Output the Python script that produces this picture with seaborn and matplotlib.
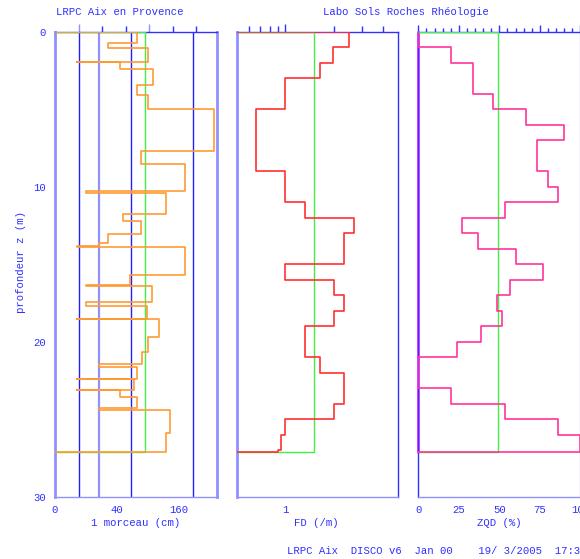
import numpy as np
import pandas as pd
import matplotlib
matplotlib.use("Agg")
import matplotlib.pyplot as plt
import seaborn as sns
from matplotlib.ticker import FixedLocator, NullFormatter, FixedFormatter

# ---------------- data ----------------
piece_depth = [0, 0.73, 1.01, 1.92, 1.96, 2.41, 3.43, 4.07, 5.0, 7.71,
               8.51, 10.28, 10.41, 11.72, 12.22, 13.01, 13.62, 13.83, 13.9, 15.71,
               16.31, 16.42, 17.45, 17.67, 18.51, 18.55, 19.7, 20.67, 21.42, 21.64,
               22.37, 22.43, 23.08, 23.14, 23.57, 24.26, 24.43, 25.88, 27.13]
piece_cm = [70, 30, 90, 5, 44, 100, 70, 90, 267, 78,
            179, 10, 130, 49, 78, 30, 20, 5, 179, 59,
            10, 99, 10, 89, 5, 114, 90, 79, 20, 70,
            5, 65, 5, 45, 70, 20, 138, 129]
piece_mean = 86
piece_refs = [6, 20, 60, 200]

fd_depth = [0, 1, 2, 3, 5, 9, 11, 12, 13, 15, 16, 17, 18, 19, 21, 22, 24, 25, 26, 27, 27.13]
fd = [2.48, 1.98, 1.65, 1.0, 0.656, 1.0, 1.33, 2.66, 2.32, 1.0,
      2.0, 2.32, 2.0, 1.33, 1.65, 2.32, 2.0, 1.0, 0.935, 0.9]
fd_mean = 1.51

zqd_depth = [0, 1, 2, 4, 5, 6, 7, 9, 10, 11, 12, 13, 14, 15, 16, 17, 18, 19, 20, 21,
             23, 24, 25, 26, 27.13]
zqd = [0, 20, 33.6, 46.3, 66.5, 89.9, 73.5, 80, 86.4, 53.7,
       27.2, 36.7, 60.1, 76.8, 56.6, 48.4, 51.5, 38.7, 23.7, 0,
       20.2, 53.7, 86.4, 100]
zqd_mean = 49.4

title_left = "LRPC Aix en Provence"
title_right = "Labo Sols Roches Rhéologie"
ylabel = "profondeur z (m)"
xlabels = ["1 morceau (cm)", "FD (/m)", "ZQD (%)"]
footer = "LRPC Aix  DISCO v6  Jan 00    19/ 3/2005  17:30"

# ---------------- style ----------------
sns.set_style("white")
FONT = ["Liberation Mono", "DejaVu Sans Mono"]
plt.rcParams["font.family"] = FONT
FS = 7.7
BLUE = "#3030ff"
LBLUE = "#9090ff"
GREEN = "#44ee44"

W, H = 580, 559
fig = plt.figure(figsize=(W / 100, H / 100), dpi=100)


def rect(x0, x1, y0, y1):
    return [x0 / W, 1 - y1 / H, (x1 - x0) / W, (y1 - y0) / H]


def step_frame(depths, vals, base):
    xs, ys = [base], [depths[0]]
    for i, v in enumerate(vals):
        xs += [v, v]
        ys += [depths[i], depths[i + 1]]
    xs.append(base)
    ys.append(depths[-1])
    return pd.DataFrame({"x": xs, "y": ys})


def mean_frame(m, dmax, base):
    return pd.DataFrame({"x": [base, m, m, base], "y": [0, 0, dmax, dmax]})


ax1 = fig.add_axes(rect(55, 216.7, 32, 496.7))
ax2 = fig.add_axes(rect(236.7, 398.3, 32, 496.7))
ax3 = fig.add_axes(rect(418.3, 580.3, 32, 496.7))

# scales
ax1.set_xscale("function", functions=(lambda v: np.sqrt(np.clip(v, 0, None)), np.square))
ax1.set_xlim(0, 275)
ax2.set_xscale("log")
ax2.set_xlim(0.5, 5)
ax3.set_xlim(0, 100)

for ax in (ax1, ax2, ax3):
    ax.set_ylim(30, 0)
    for s in ax.spines.values():
        s.set_color(BLUE)
        s.set_linewidth(1.0)
    ax.yaxis.set_major_locator(FixedLocator([0, 10, 20, 30]))
    ax.yaxis.set_minor_locator(FixedLocator(np.arange(0, 31, 2)))
    ax.tick_params(axis="y", which="major", direction="out", length=5, width=1,
                   color=BLUE, labelcolor=BLUE, labelsize=FS, pad=1.5)
    ax.tick_params(axis="y", which="minor", direction="out", length=2.5, width=1, color=BLUE)

ax1.spines["left"].set_color(LBLUE)
ax1.spines["left"].set_linewidth(2)
ax1.spines["right"].set_color(LBLUE)
ax1.spines["right"].set_linewidth(2)
ax2.spines["left"].set_color(LBLUE)
ax2.spines["left"].set_linewidth(2)
ax3.spines["right"].set_color("#c8c8ff")
ax1.spines["bottom"].set_color(LBLUE)
ax2.spines["bottom"].set_color(LBLUE)
ax3.spines["bottom"].set_color(LBLUE)
ax2.tick_params(axis="y", labelleft=False)
ax3.tick_params(axis="y", labelleft=False)

# panel 1 reference lines
for r in piece_refs:
    ax1.axvline(r, color=(LBLUE if r == 20 else "#2020ff"), lw=(1.6 if r == 20 else 1.0), zorder=1)

# panel 1 profile
sns.lineplot(data=mean_frame(piece_mean, piece_depth[-1], 0), x="x", y="y", sort=False,
             estimator=None, ax=ax1, color=GREEN, lw=1.0, zorder=3)
sns.lineplot(data=step_frame(piece_depth, piece_cm, 0), x="x", y="y", sort=False,
             estimator=None, ax=ax1, color="#ff9933", lw=1.2, zorder=4)

# panel 2 profile
sns.lineplot(data=mean_frame(fd_mean, fd_depth[-1], 0.5), x="x", y="y", sort=False,
             estimator=None, ax=ax2, color=GREEN, lw=1.0, zorder=3)
sns.lineplot(data=step_frame(fd_depth, fd, 0.5), x="x", y="y", sort=False,
             estimator=None, ax=ax2, color="#ff3030", lw=1.2, zorder=4)

# panel 3 profile
ax3.plot([0, 0], [0, zqd_depth[-1]], color="#ff30ff", lw=2, zorder=2, clip_on=False)
sns.lineplot(data=mean_frame(zqd_mean, zqd_depth[-1], 0), x="x", y="y", sort=False,
             estimator=None, ax=ax3, color=GREEN, lw=1.0, zorder=3)
sns.lineplot(data=step_frame(zqd_depth, zqd, 0), x="x", y="y", sort=False,
             estimator=None, ax=ax3, color="#ff3399", lw=1.2, zorder=4)

for ax in (ax1, ax2, ax3):
    ax.set_xlabel("")
    ax.set_ylabel("")
    if ax.get_legend():
        ax.get_legend().remove()

# x ticks panel 1
ax1.xaxis.set_major_locator(FixedLocator([0, 40, 160]))
ax1.xaxis.set_minor_locator(FixedLocator([80, 120, 200, 240]))
ax1.xaxis.set_major_formatter(FixedFormatter(["0", "40", "160"]))
ax1.tick_params(axis="x", which="major", direction="in", length=4, width=1, color=BLUE,
                labelcolor=BLUE, labelsize=FS, pad=6, top=False)
ax1.tick_params(axis="x", which="minor", direction="in", length=3, width=1, color=BLUE, top=False)
sec = ax1.secondary_xaxis("top")
sec.xaxis.set_major_locator(FixedLocator([40, 160]))
sec.xaxis.set_minor_locator(FixedLocator([80, 120, 200, 240]))
sec.xaxis.set_major_formatter(NullFormatter())
sec.tick_params(which="major", direction="out", length=6, width=1, color=LBLUE)
sec.tick_params(which="minor", direction="out", length=4, width=1, color=BLUE)
sec.spines["top"].set_visible(False)

# x ticks panel 2
ax2.xaxis.set_major_locator(FixedLocator([1]))
ax2.xaxis.set_major_formatter(FixedFormatter(["1"]))
ax2.xaxis.set_minor_locator(FixedLocator([0.6, 0.7, 0.8, 0.9, 2, 3, 4]))
ax2.xaxis.set_minor_formatter(NullFormatter())
ax2.tick_params(axis="x", which="major", direction="out", length=6, width=1, color=BLUE,
                labelcolor=BLUE, labelsize=FS, pad=0, top=True)
ax2.tick_params(axis="x", which="minor", direction="out", length=4, width=1, color=BLUE, top=True)

# x ticks panel 3
ax3.xaxis.set_major_locator(FixedLocator([0, 25, 50, 75, 100]))
ax3.xaxis.set_minor_locator(FixedLocator(np.arange(0, 101, 5)))
ax3.tick_params(axis="x", which="major", direction="out", length=5, width=1, color=BLUE,
                labelcolor=BLUE, labelsize=FS, pad=1.2, top=True)
ax3.tick_params(axis="x", which="minor", direction="out", length=3, width=1, color=BLUE, top=True)

for ax in (ax1, ax2, ax3):
    for lbl in ax.get_xticklabels() + ax.get_yticklabels():
        lbl.set_fontfamily(FONT)


def ftext(x, y, s, **kw):
    fig.text(x / W, 1 - y / H, s, color=BLUE, fontsize=FS, family=FONT, va="center", **kw)


ftext(120, 12, title_left, ha="center")
ftext(406, 12, title_right, ha="center")
ftext(136, 523, xlabels[0], ha="center")
ftext(316, 523, xlabels[1], ha="center")
ftext(499, 523, xlabels[2], ha="center")
ftext(287, 551, footer, ha="left")
fig.text(21 / W, 1 - 262 / H, ylabel, color=BLUE, fontsize=FS, family=FONT,
         rotation=90, ha="center", va="center")

fig.savefig("out.png", dpi=100)
